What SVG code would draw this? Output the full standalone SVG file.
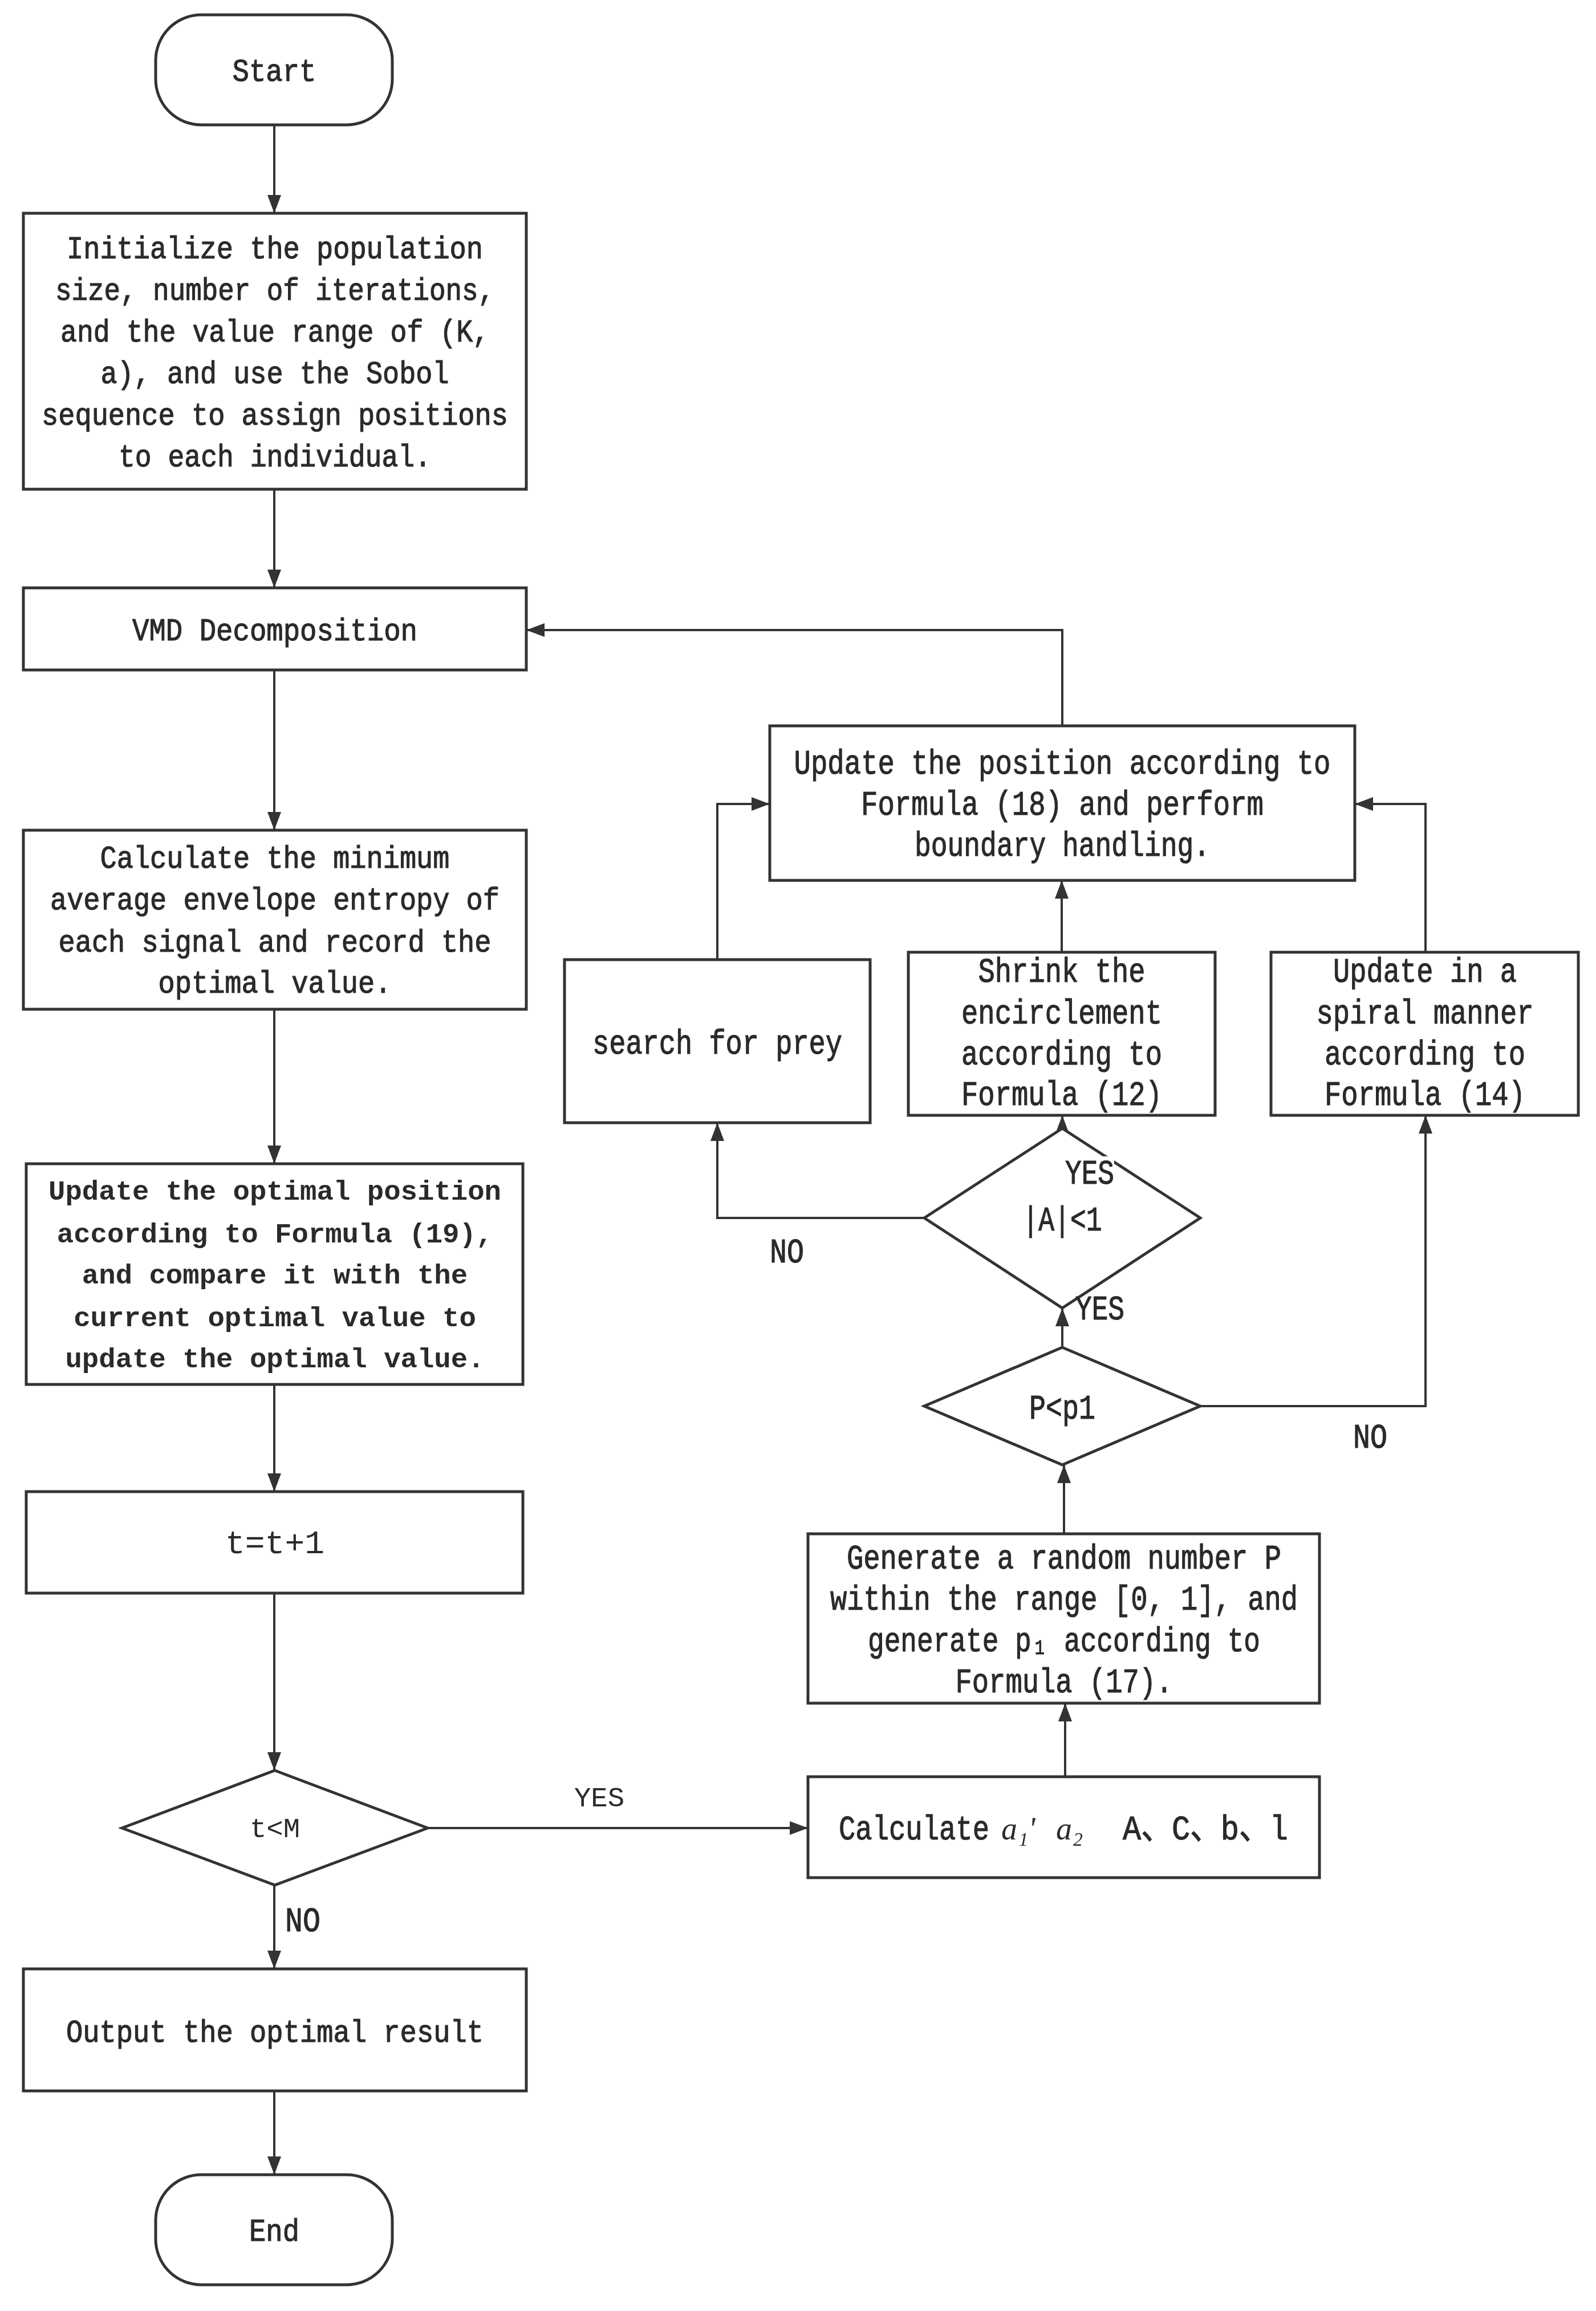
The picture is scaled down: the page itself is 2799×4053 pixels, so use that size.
<svg xmlns="http://www.w3.org/2000/svg" width="2799" height="4053" viewBox="0 0 2799 4053">
<style>
.box{fill:#fff;stroke:#333;stroke-width:5}
.ln{fill:none;stroke:#333;stroke-width:4;marker-end:url(#ah)}
.t{font-family:"Liberation Mono","Noto Sans CJK SC",monospace;font-size:56px;fill:#2a2a2a;stroke:#2a2a2a;stroke-width:1.2;text-anchor:middle}
.c{font-family:"Liberation Mono","Noto Sans CJK SC",monospace;font-size:62px;fill:#2a2a2a;stroke:#2a2a2a;stroke-width:1.2;text-anchor:middle}
.k{font-family:"Liberation Mono","Noto Sans CJK SC",monospace;font-size:49px;font-weight:bold;fill:#2a2a2a;text-anchor:middle}
.m{font-family:"Liberation Serif",serif;font-style:italic;font-size:56px;fill:#2a2a2a}
</style>
<defs>
<marker id="ah" markerUnits="userSpaceOnUse" markerWidth="32" markerHeight="24" refX="32" refY="12" orient="auto"><path d="M0,0 L32,12 L0,24 z" fill="#333"/></marker>
</defs>
<rect width="2799" height="4053" fill="#fff"/>

<g id="connectors">
<path class="ln" d="M481,219 V374"/>
<path class="ln" d="M481,858 V1031"/>
<path class="ln" d="M481,1175 V1456"/>
<path class="ln" d="M481,1770 V2041"/>
<path class="ln" d="M481,2428 V2616"/>
<path class="ln" d="M481,2794 V3105"/>
<path class="ln" d="M481,3306 V3453"/>
<path class="ln" d="M481,3667 V3814"/>
<path class="ln" d="M750,3206 H1417"/>
<path class="ln" d="M1868,3116 V2987"/>
<path class="ln" d="M1866,2690 V2569"/>
<path class="ln" d="M1863,2363 V2294"/>
<path class="ln" d="M2105,2466 H2500 V1956"/>
<path class="ln" d="M1621,2136 H1258 V1969"/>
<path class="ln" d="M1863,1990 V1956"/>
<path class="ln" d="M1258,1683 V1410 H1350"/>
<path class="ln" d="M1862,1670 V1544"/>
<path class="ln" d="M2500,1670 V1410 H2376"/>
<path class="ln" d="M1863,1273 V1105 H923"/>
</g>

<g id="start">
<rect class="box" x="273" y="26" width="415" height="193" rx="80" ry="80"/>
<text class="t" x="481" y="142" textLength="147" lengthAdjust="spacingAndGlyphs">Start</text>
</g>

<g id="init">
<rect class="box" x="41" y="374" width="882" height="484"/>
<text class="t" x="482" y="453" textLength="730" lengthAdjust="spacingAndGlyphs">Initialize the population</text>
<text class="t" x="482" y="526" textLength="770" lengthAdjust="spacingAndGlyphs">size, number of iterations,</text>
<text class="t" x="482" y="599" textLength="752" lengthAdjust="spacingAndGlyphs">and the value range of (K,</text>
<text class="t" x="482" y="672" textLength="611" lengthAdjust="spacingAndGlyphs">a), and use the Sobol</text>
<text class="t" x="482" y="745" textLength="818" lengthAdjust="spacingAndGlyphs">sequence to assign positions</text>
<text class="t" x="482" y="818" textLength="548" lengthAdjust="spacingAndGlyphs">to each individual.</text>
</g>

<g id="vmd">
<rect class="box" x="41" y="1031" width="882" height="144"/>
<text class="t" x="482" y="1123" textLength="500" lengthAdjust="spacingAndGlyphs">VMD Decomposition</text>
</g>

<g id="calc">
<rect class="box" x="41" y="1456" width="882" height="314"/>
<text class="t" x="482" y="1522" textLength="613" lengthAdjust="spacingAndGlyphs">Calculate the minimum</text>
<text class="t" x="482" y="1595" textLength="788" lengthAdjust="spacingAndGlyphs">average envelope entropy of</text>
<text class="t" x="482" y="1669" textLength="759" lengthAdjust="spacingAndGlyphs">each signal and record the</text>
<text class="t" x="482" y="1741" textLength="409" lengthAdjust="spacingAndGlyphs">optimal value.</text>
</g>

<g id="update-optimal">
<rect class="box" x="46" y="2041" width="871" height="387"/>
<text class="k" x="482" y="2104">Update the optimal position</text>
<text class="k" x="482" y="2179">according to Formula (19),</text>
<text class="k" x="482" y="2251">and compare it with the</text>
<text class="k" x="482" y="2326">current optimal value to</text>
<text class="k" x="482" y="2398">update the optimal value.</text>
</g>

<g id="increment">
<rect class="box" x="46" y="2616" width="871" height="178"/>
<text class="k" x="482" y="2724" style="font-weight:normal;font-size:58px">t=t+1</text>
</g>

<g id="t-lt-m">
<polygon class="box" points="482,3105 750,3206 482,3306 214,3206"/>
<text class="k" x="482" y="3222" style="font-weight:normal">t&lt;M</text>
</g>

<g id="output">
<rect class="box" x="41" y="3453" width="882" height="214"/>
<text class="t" x="482" y="3581" textLength="732" lengthAdjust="spacingAndGlyphs">Output the optimal result</text>
</g>

<g id="end">
<rect class="box" x="273" y="3814" width="415" height="193" rx="80" ry="80"/>
<text class="t" x="481" y="3930" textLength="88" lengthAdjust="spacingAndGlyphs">End</text>
</g>

<g id="update-position">
<rect class="box" x="1350" y="1273" width="1026" height="271"/>
<text class="c" x="1863" y="1357" textLength="941" lengthAdjust="spacingAndGlyphs">Update the position according to</text>
<text class="c" x="1863" y="1429" textLength="706" lengthAdjust="spacingAndGlyphs">Formula (18) and perform</text>
<text class="c" x="1863" y="1501" textLength="518" lengthAdjust="spacingAndGlyphs">boundary handling.</text>
</g>

<g id="search">
<rect class="box" x="990" y="1683" width="536" height="286"/>
<text class="c" x="1258" y="1848" textLength="438" lengthAdjust="spacingAndGlyphs">search for prey</text>
</g>

<g id="shrink">
<rect class="box" x="1593" y="1670" width="538" height="286"/>
<text class="c" x="1862" y="1722" textLength="293" lengthAdjust="spacingAndGlyphs">Shrink the</text>
<text class="c" x="1862" y="1795" textLength="352" lengthAdjust="spacingAndGlyphs">encirclement</text>
<text class="c" x="1862" y="1867" textLength="352" lengthAdjust="spacingAndGlyphs">according to</text>
<text class="c" x="1862" y="1938" textLength="352" lengthAdjust="spacingAndGlyphs">Formula (12)</text>
</g>

<g id="spiral">
<rect class="box" x="2229" y="1670" width="539" height="286"/>
<text class="c" x="2499" y="1722" textLength="322" lengthAdjust="spacingAndGlyphs">Update in a</text>
<text class="c" x="2499" y="1795" textLength="381" lengthAdjust="spacingAndGlyphs">spiral manner</text>
<text class="c" x="2499" y="1867" textLength="352" lengthAdjust="spacingAndGlyphs">according to</text>
<text class="c" x="2499" y="1938" textLength="352" lengthAdjust="spacingAndGlyphs">Formula (14)</text>
</g>

<g id="abs-a">
<polygon class="box" points="1863,1979 2105,2136 1863,2294 1621,2136"/>
<text class="c" x="1863" y="2158" textLength="139" lengthAdjust="spacingAndGlyphs">|A|&lt;1</text>
</g>

<g id="p-lt-p1">
<polygon class="box" points="1863,2363 2105,2466 1863,2569 1621,2466"/>
<text class="c" x="1863" y="2488" textLength="116" lengthAdjust="spacingAndGlyphs">P&lt;p1</text>
</g>

<g id="generate">
<rect class="box" x="1417" y="2690" width="897" height="297"/>
<text class="c" x="1866" y="2751" textLength="762" lengthAdjust="spacingAndGlyphs">Generate a random number P</text>
<text class="c" x="1866" y="2823" textLength="820" lengthAdjust="spacingAndGlyphs">within the range [0, 1], and</text>
<text class="c" x="1866" y="2896" textLength="688" lengthAdjust="spacingAndGlyphs">generate p₁ according to</text>
<text class="c" x="1866" y="2968" textLength="381" lengthAdjust="spacingAndGlyphs">Formula (17).</text>
</g>

<g id="calc-params">
<rect class="box" x="1417" y="3116" width="897" height="177"/>
<text class="c" x="1471" y="3226" style="text-anchor:start" textLength="264" lengthAdjust="spacingAndGlyphs">Calculate</text>
<text class="m" x="1756" y="3226">a₁ʹ<tspan x="1852">a₂</tspan></text>
<text class="c" x="1969" y="3226" style="text-anchor:start" textLength="290" lengthAdjust="spacingAndGlyphs">A、C、b、l</text>
</g>

<g id="labels">
<rect x="1868" y="2028" width="86" height="52" fill="#fff"/>
<text class="c" x="1868" y="2076" style="text-anchor:start" textLength="86" lengthAdjust="spacingAndGlyphs">YES</text>
<text class="c" x="1886" y="2314" style="text-anchor:start" textLength="86" lengthAdjust="spacingAndGlyphs">YES</text>
<text class="c" x="1350" y="2214" style="text-anchor:start" textLength="60" lengthAdjust="spacingAndGlyphs">NO</text>
<text class="c" x="2373" y="2539" style="text-anchor:start" textLength="60" lengthAdjust="spacingAndGlyphs">NO</text>
<text class="k" x="1051" y="3168" style="font-weight:normal">YES</text>
<text class="c" x="500" y="3387" style="text-anchor:start" textLength="62" lengthAdjust="spacingAndGlyphs">NO</text>
</g>
</svg>
